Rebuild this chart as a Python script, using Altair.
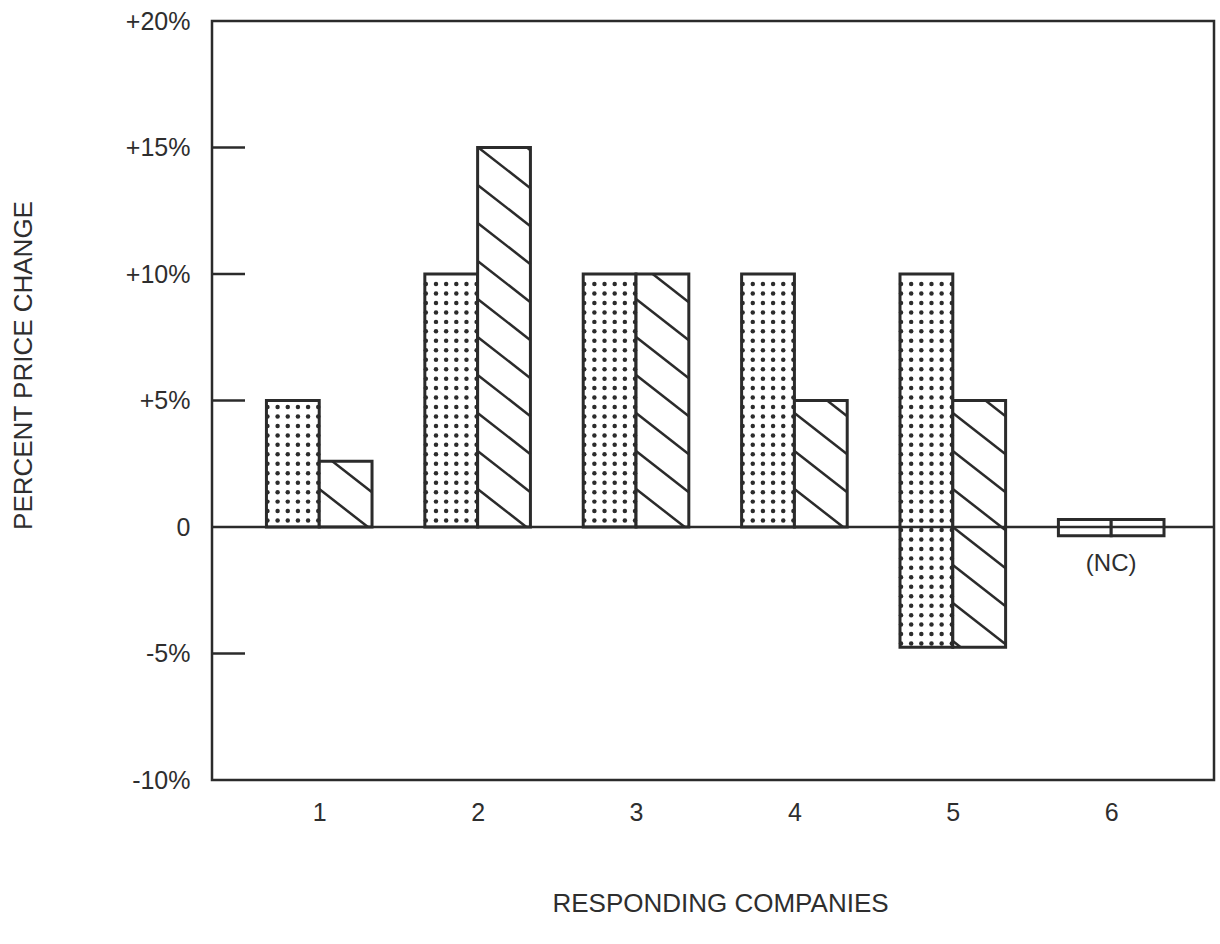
import altair as alt
import numpy as np
import pandas as pd

# ---- data ----
companies = [1, 2, 3, 4, 5, 6]
dotted_low = [0, 0, 0, 0, -4.75, -0.35]
dotted_high = [5, 10, 10, 10, 10, 0.3]
hatched_low = [0, 0, 0, 0, -4.75, -0.35]
hatched_high = [2.6, 15, 10, 5, 5, 0.3]
patterned = [True, True, True, True, True, False]
y_tick_values = [20, 15, 10, 5, 0, -5, -10]
inner_tick_values = [15, 10, 5, -5]
note_text = ["(NC)"]
note_company = [6]

# ---- layout / style ----
W, H = 1002, 759
XMIN, XMAX = 0.323, 6.649
YMIN, YMAX = -10, 20
PX_X = W / (XMAX - XMIN)
PX_Y = H / (YMAX - YMIN)
BW = 1 / 3
FONT = "Liberation Sans"
INK = "#2b2b2b"
TXT = "#2e2e2e"

xs = alt.Scale(domain=[XMIN, XMAX], nice=False, zero=False)
ys = alt.Scale(domain=[YMIN, YMAX], nice=False, zero=False)

# bars table
bars = []
for c, dl, dh, hl, hh in zip(companies, dotted_low, dotted_high, hatched_low, hatched_high):
    bars.append(dict(company=c, kind="dotted", x=c - BW, x2=c, y=dl, y2=dh))
    bars.append(dict(company=c, kind="hatched", x=c, x2=c + BW, y=hl, y2=hh))
bars_df = pd.DataFrame(bars)

# dot texture for the dotted bars
DOT_PITCH = 9.46
dots = []
for c, lo, hi, p in zip(companies, dotted_low, dotted_high, patterned):
    if not p:
        continue
    cols = np.linspace(c - BW + 1.0 / PX_X, c - 1.0 / PX_X, 6)
    top_px, bot_px = hi * PX_Y, lo * PX_Y
    for k in range(-80, 80):
        h = -3 + k * DOT_PITCH
        if bot_px + 3 < h < top_px - 5:
            for cx in cols:
                dots.append(dict(x=cx, y=h / PX_Y))
dots_df = pd.DataFrame(dots)

# hatch texture for the hatched bars
S = 0.78
PITCH = 38
hatch = []
for c, lo, hi, p in zip(companies, hatched_low, hatched_high, patterned):
    if not p:
        continue
    wpx = BW * PX_X
    top_px, bot_px = hi * PX_Y, lo * PX_Y
    for k in range(-40, 40):
        base = k * PITCH
        xa = max(0.0, (base - top_px) / S)
        xb = min(wpx, (base - bot_px) / S)
        if xb - xa > 1.5:
            hatch.append(dict(x=c + xa / PX_X, x2=c + xb / PX_X,
                              y=(base - S * xa) / PX_Y, y2=(base - S * xb) / PX_Y))
hatch_df = pd.DataFrame(hatch)

label_expr = ("datum.value > 0 ? '+' + datum.value + '%' : "
              "(datum.value == 0 ? '0' : datum.value + '%')")

x_axis = alt.Axis(values=companies, format="d", grid=False, ticks=False, domain=False,
                  labelFontSize=25, labelFont=FONT, labelColor=TXT, labelPadding=20,
                  title="RESPONDING COMPANIES", titleFont=FONT, titleFontSize=26,
                  titleFontWeight="normal", titleColor=TXT, titleY=123, titleX=508,
                  titleBaseline="middle")
y_axis = alt.Axis(values=y_tick_values, labelExpr=label_expr, grid=False, ticks=False,
                  domain=False, labelFontSize=25, labelFont=FONT, labelColor=TXT,
                  labelPadding=22, title="PERCENT PRICE CHANGE", titleFont=FONT,
                  titleFontSize=26, titleFontWeight="normal", titleColor=TXT,
                  titleX=-189, titleY=344, titleAngle=270, titleAlign="center",
                  titleBaseline="middle")

base = alt.Chart(bars_df).mark_rect(fill="white", stroke=INK, strokeWidth=3).encode(
    x=alt.X("x:Q", scale=xs, axis=x_axis),
    x2="x2:Q",
    y=alt.Y("y:Q", scale=ys, axis=y_axis),
    y2="y2:Q",
)

dots_layer = alt.Chart(dots_df).mark_circle(size=20, color=INK, opacity=1).encode(
    x=alt.X("x:Q", scale=xs, axis=x_axis),
    y=alt.Y("y:Q", scale=ys, axis=y_axis),
)

hatch_layer = alt.Chart(hatch_df).mark_rule(color=INK, strokeWidth=2.5).encode(
    x=alt.X("x:Q", scale=xs, axis=x_axis),
    x2="x2:Q",
    y=alt.Y("y:Q", scale=ys, axis=y_axis),
    y2="y2:Q",
)

zero_layer = alt.Chart(pd.DataFrame({"y": [0]})).mark_rule(color=INK, strokeWidth=2.5).encode(
    y=alt.Y("y:Q", scale=ys, axis=y_axis),
    x=alt.value(0),
    x2=alt.value(W),
)

ticks_layer = alt.Chart(pd.DataFrame({"y": inner_tick_values})).mark_rule(
    color=INK, strokeWidth=2.5).encode(
    y=alt.Y("y:Q", scale=ys, axis=y_axis),
    x=alt.value(0),
    x2=alt.value(33),
)

note_layer = alt.Chart(pd.DataFrame({"x": note_company, "y": [0], "t": note_text})).mark_text(
    font=FONT, fontSize=24, color=TXT, dy=37, align="center", baseline="middle").encode(
    x=alt.X("x:Q", scale=xs, axis=x_axis),
    y=alt.Y("y:Q", scale=ys, axis=y_axis),
    text="t:N",
)

chart = alt.layer(base, dots_layer, hatch_layer, zero_layer, ticks_layer, note_layer).properties(
    width=W, height=H,
    autosize=alt.AutoSizeParams(type="none"),
    padding={"left": 212, "top": 21, "right": 6, "bottom": 164},
    background="white",
).configure_view(stroke=INK, strokeWidth=2.5)

chart.save("out.html", embed_options={"renderer": "svg", "actions": False})
